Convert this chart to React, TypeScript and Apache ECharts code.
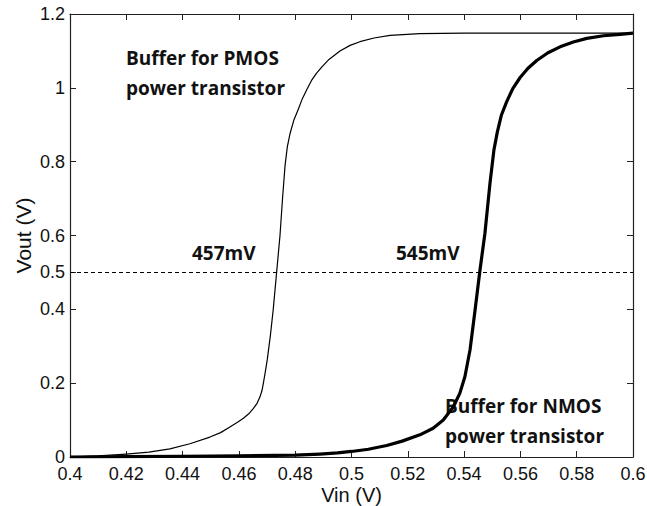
import React, { useEffect, useRef } from "react";
import * as echarts from "echarts";

// Vin (V), Vout (V) pairs
const pmosBuffer: [number, number][] = [
  [0.4, 0.0], [0.41, 0.003], [0.42, 0.008], [0.428, 0.013], [0.4355, 0.022], [0.4426, 0.036],
  [0.4497, 0.054], [0.4535, 0.066], [0.4568, 0.081], [0.4595, 0.094], [0.4616, 0.105],
  [0.4635, 0.117], [0.4651, 0.131], [0.4665, 0.146], [0.4675, 0.163], [0.4682, 0.18],
  [0.4687, 0.2], [0.4695, 0.236], [0.4701, 0.265], [0.4712, 0.33], [0.4722, 0.4],
  [0.4734, 0.5], [0.4746, 0.6], [0.4755, 0.7], [0.4764, 0.79], [0.4772, 0.84],
  [0.4782, 0.877], [0.4795, 0.912], [0.4811, 0.942], [0.4825, 0.97], [0.4841, 0.995],
  [0.4858, 1.02], [0.4876, 1.04], [0.4895, 1.057], [0.492, 1.077], [0.4959, 1.1],
  [0.4995, 1.115], [0.503, 1.125], [0.508, 1.135], [0.5137, 1.142], [0.5243, 1.147],
  [0.54, 1.148], [0.6, 1.148],
];

const nmosBuffer: [number, number][] = [
  [0.4, 0.0], [0.42, 0.001], [0.44, 0.002], [0.46, 0.003], [0.48, 0.005], [0.4888, 0.008],
  [0.495, 0.011], [0.5, 0.015], [0.506, 0.021], [0.5125, 0.031], [0.518, 0.043],
  [0.5243, 0.06], [0.529, 0.078], [0.5326, 0.1], [0.5362, 0.136], [0.5385, 0.173],
  [0.5403, 0.218], [0.5421, 0.29], [0.5439, 0.398], [0.5456, 0.504], [0.5474, 0.606],
  [0.5492, 0.742], [0.5506, 0.832], [0.5518, 0.88], [0.5532, 0.925], [0.5551, 0.962],
  [0.5573, 0.998], [0.5599, 1.028], [0.5627, 1.053], [0.5658, 1.074], [0.5698, 1.095],
  [0.5741, 1.111], [0.5788, 1.124], [0.5836, 1.134], [0.5895, 1.141], [0.5954, 1.145],
  [0.6, 1.148],
];

const thresholdLevel = 0.5;
const yLabelValues = [0, 0.2, 0.4, 0.5, 0.6, 0.8, 1, 1.2];
const yFrameTicks = [0, 0.2, 0.4, 0.6, 0.8, 1, 1.2];

const xTitle = "Vin (V)";
const yTitle = "Vout (V)";
const pmosLabel = ["Buffer for PMOS", "power transistor"];
const nmosLabel = ["Buffer for NMOS", "power transistor"];
const pmosSwitch = "457mV";
const nmosSwitch = "545mV";

const AXIS_COLOR = "#222";
const LABEL_FONT = "Liberation Sans";
const NOTE_FONT = "Open Sans";

export default function App() {
  const ref = useRef<HTMLDivElement>(null);
  useEffect(() => {
    document.body.style.margin = "0";
    if (!ref.current) return;
    const chart = echarts.init(ref.current, undefined, { renderer: "svg" });
    const axisBase = {
      type: "value" as const,
      axisLine: { show: true, onZero: false, lineStyle: { color: AXIS_COLOR, width: 1.2 } },
      splitLine: { show: false },
    };
    const noteStyle = (text: string) => ({
      text,
      fontFamily: NOTE_FONT,
      fontWeight: "bold",
      fontSize: 19,
      fill: "#111",
      lineHeight: 30,
    });
    const tickStyle = { show: true, inside: true, length: 6, lineStyle: { color: AXIS_COLOR } };
    chart.setOption({
      animation: false,
      backgroundColor: "#fff",
      grid: { left: 70, right: 14, top: 14, bottom: 49, containLabel: false, outerBoundsMode: "none" },
      xAxis: [
        {
          ...axisBase,
          position: "bottom",
          min: 0.4,
          max: 0.6,
          interval: 0.02,
          name: xTitle,
          nameLocation: "middle",
          nameGap: 29,
          nameMoveOverlap: false,
          nameTextStyle: { fontFamily: LABEL_FONT, fontSize: 20, lineHeight: 18, color: "#111" },
          axisTick: tickStyle,
          axisLabel: { fontFamily: LABEL_FONT, fontSize: 18, lineHeight: 14, color: "#111", margin: 10 },
        },
        {
          ...axisBase,
          position: "top",
          min: 0.4,
          max: 0.6,
          interval: 0.02,
          axisTick: tickStyle,
          axisLabel: { show: false },
        },
      ],
      yAxis: [
        {
          ...axisBase,
          position: "left",
          min: 0,
          max: 1.2,
          interval: 0.2,
          name: yTitle,
          nameLocation: "middle",
          nameGap: 37,
          nameMoveOverlap: false,
          nameTextStyle: { fontFamily: LABEL_FONT, fontSize: 21, lineHeight: 20, color: "#111" },
          axisTick: { ...tickStyle, customValues: yLabelValues },
          axisLabel: {
            fontFamily: LABEL_FONT,
            fontSize: 18,
            lineHeight: 14,
            color: "#111",
            margin: 5,
            customValues: yLabelValues,
          },
        },
        {
          ...axisBase,
          position: "right",
          min: 0,
          max: 1.2,
          interval: 0.2,
          axisTick: { ...tickStyle, customValues: yFrameTicks },
          axisLabel: { show: false },
        },
      ],
      series: [
        {
          name: "PMOS buffer",
          type: "line",
          data: pmosBuffer,
          showSymbol: false,
          smooth: false,
          lineStyle: { color: "#000", width: 1.2, join: "round" },
          markLine: {
            silent: true,
            symbol: ["none", "none"],
            label: { show: false },
            lineStyle: { color: "#000", width: 1, type: [4, 3] },
            data: [{ yAxis: thresholdLevel }],
          },
        },
        {
          name: "NMOS buffer",
          type: "line",
          data: nmosBuffer,
          showSymbol: false,
          smooth: false,
          lineStyle: { color: "#000", width: 3.2, join: "round" },
        },
      ],
      graphic: [
        { type: "text", left: 126, top: 43, style: noteStyle(pmosLabel.join("\n")) },
        { type: "text", left: 192, top: 238, style: noteStyle(pmosSwitch) },
        { type: "text", left: 396, top: 238, style: noteStyle(nmosSwitch) },
        { type: "text", left: 445, top: 391, style: noteStyle(nmosLabel.join("\n")) },
      ],
    });
    return () => chart.dispose();
  }, []);
  return <div ref={ref} style={{ width: 647, height: 506 }} />;
}
